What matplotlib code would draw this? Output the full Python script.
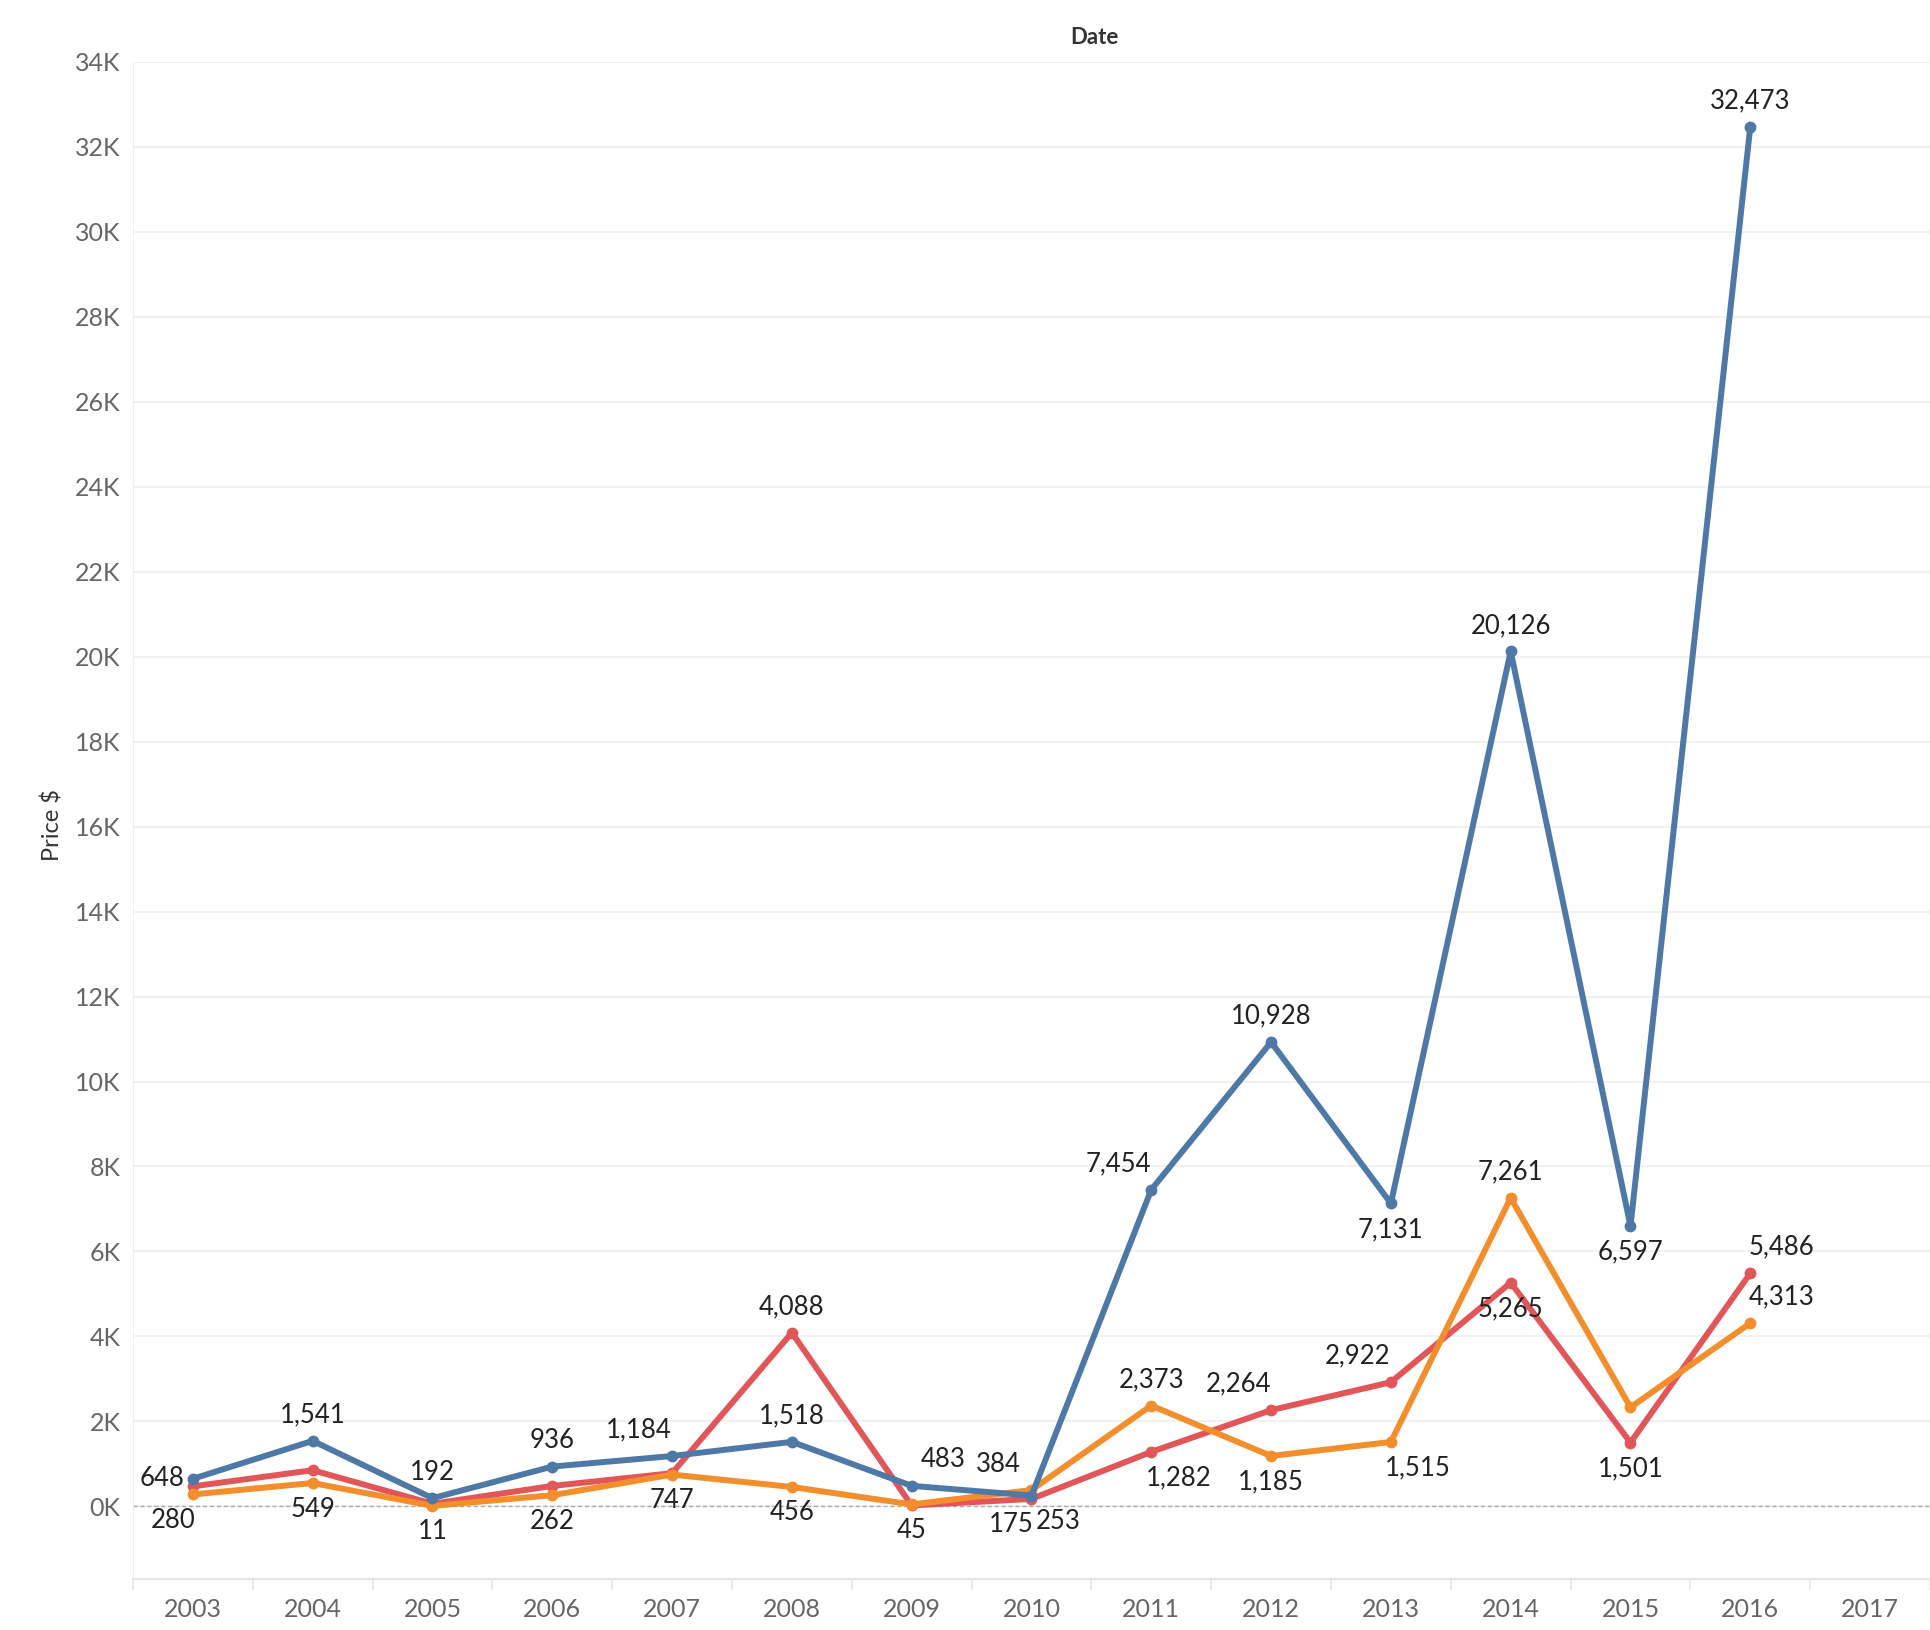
import numpy as np
import matplotlib.pyplot as plt
from matplotlib.ticker import FuncFormatter

# Data
years = list(range(2003, 2017))
blue_vals = [648, 1541, 192, 936, 1184, 1518, 483, 253, 7454, 10928, 7131, 20126, 6597, 32473]
orange_vals = [280, 549, 11, 262, 747, 456, 45, 384, 2373, 1185, 1515, 7261, 2330, 4313]
red_vals = [470, 850, 60, 480, 780, 4088, 20, 175, 1282, 2264, 2922, 5265, 1501, 5486]

# which points carry a label and where (style, not data)
blue_pos = ['l', 'a', 'a', 'a', 'al', 'a', 'ar', 'br', 'al', 'a', 'b', 'a', 'b', 'a']
orange_pos = ['bl', 'b', 'b', 'b', 'b', 'b', 'b', 'al', 'a', 'b', 'br', 'a', None, 'ar']
red_pos = [None, None, None, None, None, 'a', None, 'bl', 'br', 'al', 'al', 'b', 'b', 'ar']

offsets = {'a': (0, 26), 'b': (0, -26), 'l': (-31, 0), 'al': (-33, 26),
           'ar': (31, 26), 'bl': (-20, -26), 'br': (27, -26)}

plt.rcParams['font.family'] = ['Lato', 'DejaVu Sans']

fig = plt.figure(figsize=(19.3, 16.3), dpi=100)
ax = fig.add_axes([0.0689, 0.0313, 0.9311, 0.9307])

series = [(red_vals, red_pos, '#e15759'),
          (orange_vals, orange_pos, '#f28e2b'),
          (blue_vals, blue_pos, '#4e79a7')]

for z, (vals, pos, col) in enumerate(series):
    ax.plot(years, vals, color=col, lw=4.3, marker='o', ms=7.5, zorder=3 + z,
            solid_joinstyle='round')
    for x, y, p in zip(years, vals, pos):
        if p is None:
            continue
        dx, dy = offsets[p]
        ax.annotate(f'{y:,}', (x, y), xytext=(dx, dy), textcoords='offset pixels',
                    ha='center', va='center', fontsize=18.5, color='#222222', zorder=10)

ax.axhline(0, color='#aaaaaa', lw=1, ls=(0, (3, 2)), zorder=2)

ax.set_xlim(2002.5, 2017.47)
ax.set_ylim(-1710, 34000)
ax.set_yticks(np.arange(0, 34001, 2000))
ax.yaxis.set_major_formatter(FuncFormatter(lambda v, p: f'{int(v / 1000)}K'))
ax.set_xticks(range(2003, 2018))
ax.set_xticks(np.arange(2002.5, 2018, 1), minor=True)

ax.grid(axis='y', color='#efefef', lw=1.2, zorder=0)
for s in ['top', 'right']:
    ax.spines[s].set_visible(False)
ax.spines['left'].set_color('#eeeeee')
ax.spines['bottom'].set_color('#e6e6e6')
ax.spines['bottom'].set_linewidth(1.5)

ax.tick_params(axis='y', length=0, pad=9, labelsize=18, labelcolor='#666666')
ax.tick_params(axis='x', which='major', length=0, pad=14, labelsize=18, labelcolor='#666666')
ax.tick_params(axis='x', which='minor', length=8, color='#e6e6e6', width=1.2)

fig.text(0.567, 0.977, 'Date', ha='center', va='center', fontsize=16,
         color='#333333', fontweight='bold')
fig.text(0.027, 0.494, 'Price $', ha='center', va='center', fontsize=17,
         color='#333333', rotation=90)

fig.savefig('out.png', dpi=100)
